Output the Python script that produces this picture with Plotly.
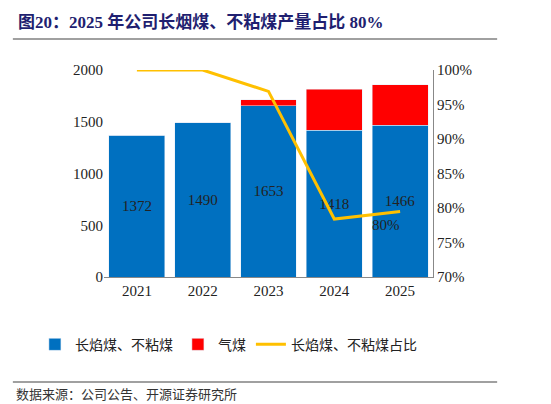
import plotly.graph_objects as go

years = ["2021", "2022", "2023", "2024", "2025"]
long_flame = [1372, 1490, 1653, 1418, 1466]
gas_coal = [0, 0, 60, 395, 392]
share = [100.0, 100.0, 96.9, 78.4, 79.5]

FONT = "Liberation Serif, Noto Sans CJK SC"

fig = go.Figure()
fig.add_trace(go.Bar(
    x=years, y=long_flame, name="长焰煤、不粘煤", marker_color="#0070C0",
    text=[str(v) for v in long_flame], textposition="inside", insidetextanchor="middle",
    textfont=dict(family=FONT, size=15, color="#222"),
))
fig.add_trace(go.Bar(
    x=years, y=gas_coal, name="气煤", marker_color="#FF0000", hoverinfo="y",
))
fig.add_trace(go.Scatter(
    x=years, y=share, name="长焰煤、不粘煤占比", yaxis="y2", mode="lines",
    line=dict(color="#FFC000", width=3),
))
fig.add_annotation(x=4, y=share[-1], xref="x", yref="y2", text="80%", showarrow=False,
                   xshift=-14, yshift=-14, font=dict(family=FONT, size=15, color="#222"))

# title, rules and source note
fig.add_annotation(xref="paper", yref="paper", x=-0.267, y=1.23, xanchor="left", yanchor="middle",
                   text="<b>图20：2025 年公司长烟煤、不粘煤产量占比 80%</b>", showarrow=False,
                   font=dict(family=FONT, size=17, color="#1F1F70"))
fig.add_annotation(xref="paper", yref="paper", x=-0.275, y=-0.565, xanchor="left", yanchor="middle",
                   text="数据来源：公司公告、开源证券研究所", showarrow=False,
                   font=dict(family="Noto Sans CJK SC", size=13, color="#333"))
for yy in [1.15, -0.507]:
    fig.add_shape(type="line", xref="paper", yref="paper", x0=-0.277, x1=1.195, y0=yy, y1=yy,
                  line=dict(color="#808080", width=1.5))

fig.update_layout(
    width=551, height=404, barmode="stack", bargap=0.15,
    paper_bgcolor="white", plot_bgcolor="white",
    margin=dict(l=96, r=126, t=62, b=135),
    font=dict(family=FONT, size=15, color="#222"),
    xaxis=dict(type="category", showline=True, linecolor="#888", ticks="", tickfont=dict(size=15)),
    yaxis=dict(range=[0, 2000], dtick=500, showgrid=False, showline=False, ticks="",
               tickfont=dict(size=15)),
    yaxis2=dict(overlaying="y", side="right", range=[70, 100], dtick=5, ticksuffix="%",
                showgrid=False, showline=True, linecolor="#888", tickfont=dict(size=15)),
    legend=dict(orientation="h", x=-0.21, y=-0.25, xanchor="left", yanchor="top",
                font=dict(family="Noto Sans CJK SC", size=14), traceorder="normal"),
    showlegend=True,
)
fig.write_html("out.html")
